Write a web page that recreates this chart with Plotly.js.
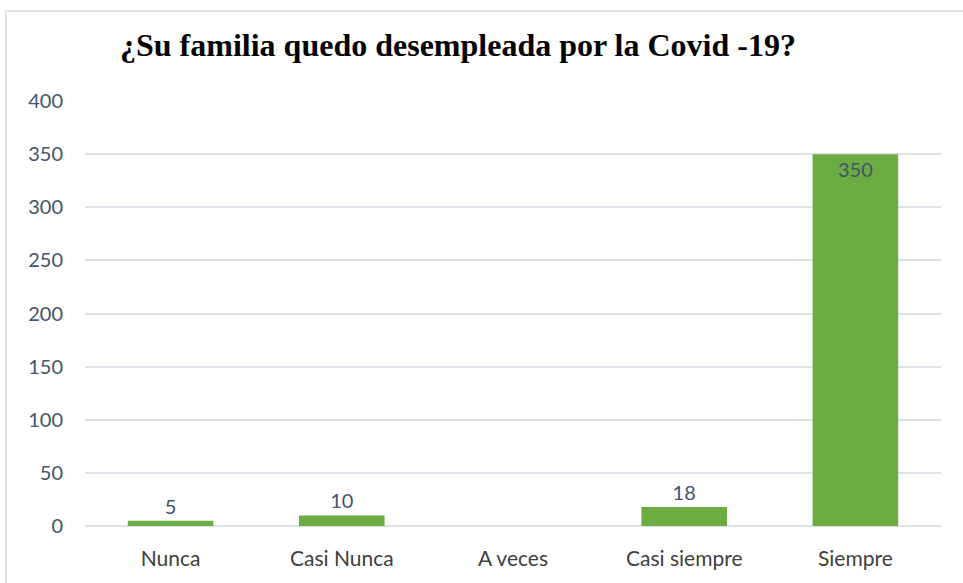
<!DOCTYPE html>
<html>
<head>
<meta charset="utf-8">
<script src="https://cdn.plot.ly/plotly-3.0.1.min.js"></script>
<style>
html,body{margin:0;padding:0;background:#fff;}
#chart{width:963px;height:583px;position:relative;}
#frame{position:absolute;left:5px;top:10px;width:960px;height:580px;border:2px solid #dfe2e8;box-sizing:border-box;pointer-events:none;}
</style>
</head>
<body>
<div id="chart"></div>
<div id="frame"></div>
<script>
const categories = ["Nunca", "Casi Nunca", "A veces", "Casi siempre", "Siempre"];
const values = [5, 10, 0, 18, 350];
const labels = ["5", "10", "", "18", "350"];
const labelPositions = ["outside", "outside", "none", "outside", "inside"];
const yTicks = [0, 50, 100, 150, 200, 250, 300, 350, 400];

const labelFont = {family: "Lato, 'Open Sans', sans-serif", size: 20, color: "#44546A"};

const trace = {
  type: "bar",
  x: categories,
  y: values,
  text: labels,
  textposition: labelPositions,
  insidetextanchor: "end",
  cliponaxis: false,
  textfont: labelFont,
  outsidetextfont: labelFont,
  insidetextfont: labelFont,
  marker: {color: "#6CAC42", line: {width: 0}},
  width: 0.5,
  hoverinfo: "none"
};

const layout = {
  width: 963, height: 583,
  margin: {l: 85, r: 22, t: 101, b: 57},
  paper_bgcolor: "#ffffff",
  plot_bgcolor: "#ffffff",
  showlegend: false,
  title: {
    text: "<b>¿Su familia quedo desempleada por la Covid -19?</b>",
    font: {family: "'Liberation Serif', 'Times New Roman', serif", size: 32, color: "#000000"},
    x: 120/963, xanchor: "left", xref: "container",
    y: 1 - 45/583, yanchor: "middle", yref: "container"
  },
  xaxis: {
    type: "category",
    showgrid: false,
    showline: false,
    zeroline: false,
    ticks: "",
    ticklabelstandoff: 18,
    tickfont: {family: "Lato, 'Open Sans', sans-serif", size: 21, color: "#404040"}
  },
  yaxis: {
    range: [0, 400],
    tickvals: yTicks,
    ticktext: yTicks.map(String),
    showgrid: true,
    gridcolor: "#dde1e8",
    gridwidth: 2,
    zeroline: true,
    zerolinecolor: "#dde1e8",
    zerolinewidth: 2,
    showline: false,
    ticks: "",
    ticklabelstandoff: 21,
    tickfont: {family: "Lato, 'Open Sans', sans-serif", size: 20, color: "#44546A"}
  }
};

Plotly.newPlot("chart", [trace], layout, {displayModeBar: false, staticPlot: true});
</script>
</body>
</html>
